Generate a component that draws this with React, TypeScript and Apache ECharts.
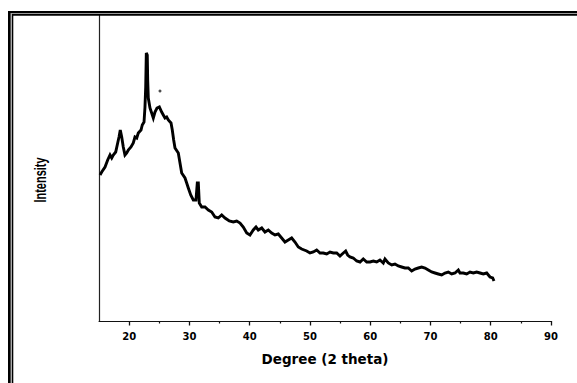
import React, { useEffect, useRef } from "react";
import * as echarts from "echarts";

// XRD scan: [2θ (deg), intensity (a.u.)]
const xrdScan: [number, number][] = [
  [15.17, 146], [15.45, 149], [16.0, 154], [16.44, 161], [16.83, 166], [17.11, 163],
  [17.37, 166], [17.77, 169], [18.1, 178], [18.32, 184], [18.53, 191], [18.77, 184],
  [19.03, 174], [19.31, 166], [19.6, 168], [19.86, 171], [20.31, 174], [20.69, 178],
  [20.97, 184], [21.26, 183], [21.52, 188], [21.97, 191], [22.18, 196], [22.47, 199],
  [22.63, 214], [22.75, 234], [22.85, 268], [23.01, 266], [23.08, 241], [23.18, 223],
  [23.46, 213], [23.74, 208], [24.01, 203], [24.29, 209], [24.62, 213], [25.01, 214],
  [25.4, 209], [25.67, 206], [25.95, 203], [26.23, 204], [26.5, 201], [26.95, 198],
  [27.16, 191], [27.39, 181], [27.61, 173], [28.16, 168], [28.44, 158], [28.72, 148],
  [29.27, 143], [29.55, 138], [29.82, 133], [30.22, 126], [30.65, 121], [31.09, 121],
  [31.31, 138], [31.48, 138], [31.64, 118], [32.04, 114], [32.59, 114], [33.14, 111],
  [33.7, 109], [34.25, 104], [34.79, 103], [35.36, 106], [35.91, 103], [36.62, 100],
  [37.28, 99], [37.85, 100], [38.4, 98], [38.94, 94], [39.51, 88], [40.05, 86],
  [40.6, 91], [41.05, 94], [41.43, 91], [42.0, 93], [42.54, 89], [43.09, 91],
  [43.66, 88], [44.2, 86], [44.75, 87], [45.31, 83], [45.86, 79], [46.41, 81],
  [46.97, 83], [47.52, 79], [48.07, 74], [48.63, 72], [49.46, 70], [50.01, 68],
  [50.56, 69], [51.12, 71], [51.67, 68], [52.22, 68], [52.78, 67], [53.33, 69],
  [53.88, 68], [54.44, 68], [54.99, 65], [55.54, 68], [55.93, 70], [56.26, 66],
  [56.65, 64], [57.19, 63], [57.76, 60], [58.31, 59], [58.85, 62], [59.42, 59],
  [59.97, 59], [60.52, 60], [61.08, 59], [61.62, 61], [62.17, 58], [62.45, 62],
  [63.0, 58], [63.57, 56], [64.11, 57], [64.66, 55], [65.22, 54], [65.77, 53],
  [66.32, 53], [66.88, 50], [67.43, 52], [67.98, 53], [68.54, 54], [69.09, 53],
  [69.64, 51], [70.2, 49], [70.75, 48], [71.3, 47], [71.86, 46], [72.41, 48],
  [72.96, 49], [73.52, 47], [74.07, 48], [74.62, 51], [74.9, 48], [75.45, 48],
  [76.01, 47], [76.56, 49], [77.11, 48], [77.67, 49], [78.22, 48], [78.77, 47],
  [79.33, 48], [79.88, 44], [80.32, 43], [80.54, 40],
];

// isolated stray count above the main reflection
const strayPoint: [number, number][] = [[25.12, 230]];

const xRange = [15, 90];
const yRange = [0, 306];
const majorTicks = [20, 30, 40, 50, 60, 70, 80, 90];
const minorTicks = [25, 35, 45, 55, 65, 75, 85];

const xTitle = "Degree (2 theta)";
const yTitle = "Intensity";

export default function App() {
  const ref = useRef<HTMLDivElement>(null);

  useEffect(() => {
    if (!ref.current) return;
    const chart = echarts.init(ref.current, undefined, { renderer: "svg" });
    const black = "#111";
    chart.setOption({
      animation: false,
      backgroundColor: "#fff",
      grid: { left: 99, right: 26, top: 15, bottom: 62 },
      xAxis: [
        {
          type: "value",
          min: xRange[0],
          max: xRange[1],
          position: "bottom",
          axisLine: { show: true, onZero: false, lineStyle: { color: black, width: 1 } },
          axisTick: { show: true, customValues: majorTicks, length: 4.5, lineStyle: { color: black, width: 1.3 } },
          axisLabel: {
            customValues: majorTicks,
            fontFamily: "DejaVu Sans",
            fontWeight: "bold",
            fontSize: 10,
            color: "#000",
            margin: 10,
          },
          splitLine: { show: false },
          name: xTitle,
          nameLocation: "middle",
          nameGap: 31,
          nameTextStyle: { fontFamily: "DejaVu Sans", fontWeight: "bold", fontSize: 13.5, color: "#000" },
        },
        {
          type: "value",
          min: xRange[0],
          max: xRange[1],
          position: "bottom",
          axisLine: { show: false },
          axisTick: { show: true, customValues: minorTicks, length: 2.5, lineStyle: { color: black, width: 1.2 } },
          axisLabel: { show: false },
          splitLine: { show: false },
        },
      ],
      yAxis: {
        type: "value",
        min: yRange[0],
        max: yRange[1],
        axisLine: { show: true, onZero: false, lineStyle: { color: "#222", width: 1.2 } },
        axisTick: { show: false },
        axisLabel: { show: false },
        splitLine: { show: false },
      },
      series: [
        {
          type: "line",
          data: xrdScan,
          showSymbol: false,
          symbol: "none",
          lineStyle: { color: "#000", width: 2.9, join: "miter" },
        },
        {
          type: "scatter",
          data: strayPoint,
          symbolSize: 3,
          itemStyle: { color: "#222" },
        },
      ],
      graphic: [
        // double frame (top and left edges)
        { type: "rect", shape: { x: 8, y: 11, width: 569, height: 2 }, style: { fill: "#000" }, z: 10 },
        { type: "rect", shape: { x: 11, y: 13, width: 566, height: 1 }, style: { fill: "#999" }, z: 10 },
        { type: "rect", shape: { x: 12, y: 14, width: 565, height: 1.8 }, style: { fill: "#000" }, z: 10 },
        { type: "rect", shape: { x: 8, y: 11, width: 2.8, height: 372 }, style: { fill: "#000" }, z: 10 },
        { type: "rect", shape: { x: 10.8, y: 13, width: 1.2, height: 370 }, style: { fill: "#aaa" }, z: 10 },
        { type: "rect", shape: { x: 12, y: 14, width: 1.3, height: 369 }, style: { fill: "#000" }, z: 10 },
        {
          type: "text",
          x: 40,
          y: 180,
          rotation: Math.PI / 2,
          scaleY: 1.5,
          style: {
            text: yTitle,
            font: "bold 11px 'Liberation Sans'",
            fill: "#000",
            textAlign: "center",
            textVerticalAlign: "middle",
          },
        },
      ],
    });
    return () => chart.dispose();
  }, []);

  return (
    <div
      ref={ref}
      style={{ position: "absolute", left: 0, top: 0, width: 577, height: 383, background: "#fff" }}
    />
  );
}
